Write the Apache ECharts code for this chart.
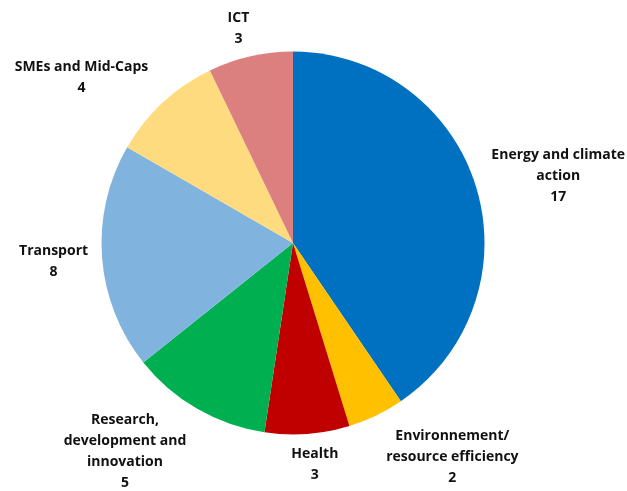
<!DOCTYPE html>
<html><head><meta charset="utf-8">
<script src="https://cdn.jsdelivr.net/npm/echarts@6/dist/echarts.min.js"></script>
<style>html,body{margin:0;padding:0;background:#fff}#c{width:627px;height:491px}</style>
</head><body><div id="c"></div>
<script>
const categories = ['Energy and climate\naction', 'Environnement/\nresource efficiency', 'Health', 'Research,\ndevelopment and\ninnovation', 'Transport', 'SMEs and Mid-Caps', 'ICT'];
const values = [17, 2, 3, 5, 8, 4, 3];
const colors = ['#0070C0', '#FFC000', '#C00000', '#00B050', '#80B4DE', '#FFDB80', '#DC7F7F'];
// label nudges relative to the library's outside label placement
const labelNudge = [[-7, -6], [-5, 29], [-26, 17], [5, 31], [9, 3], [4, -15], [11, -14]];

const chart = echarts.init(document.getElementById('c'), null, {renderer: 'canvas'});
chart.setOption({
  animation: false,
  series: [{
    type: 'pie',
    center: [293, 243],
    radius: 191.5,
    startAngle: 90,
    clockwise: true,
    avoidLabelOverlap: false,
    itemStyle: {borderWidth: 0},
    label: {
      show: true,
      position: 'outside',
      alignTo: 'none',
      formatter: p => '{t|' + p.name.split('\n').join('}\n{t|') + '}\n{t|' + p.value + '}',
      rich: {t: {align: 'center', fontFamily: 'Open Sans', fontWeight: 'bold', fontSize: 14, color: '#111', lineHeight: 21}}
    },
    labelLine: {show: false, length: 14, length2: 4},
    data: categories.map((c, i) => ({name: c, value: values[i], itemStyle: {color: colors[i]}, label: {offset: labelNudge[i]}}))
  }]
});
</script></body></html>
